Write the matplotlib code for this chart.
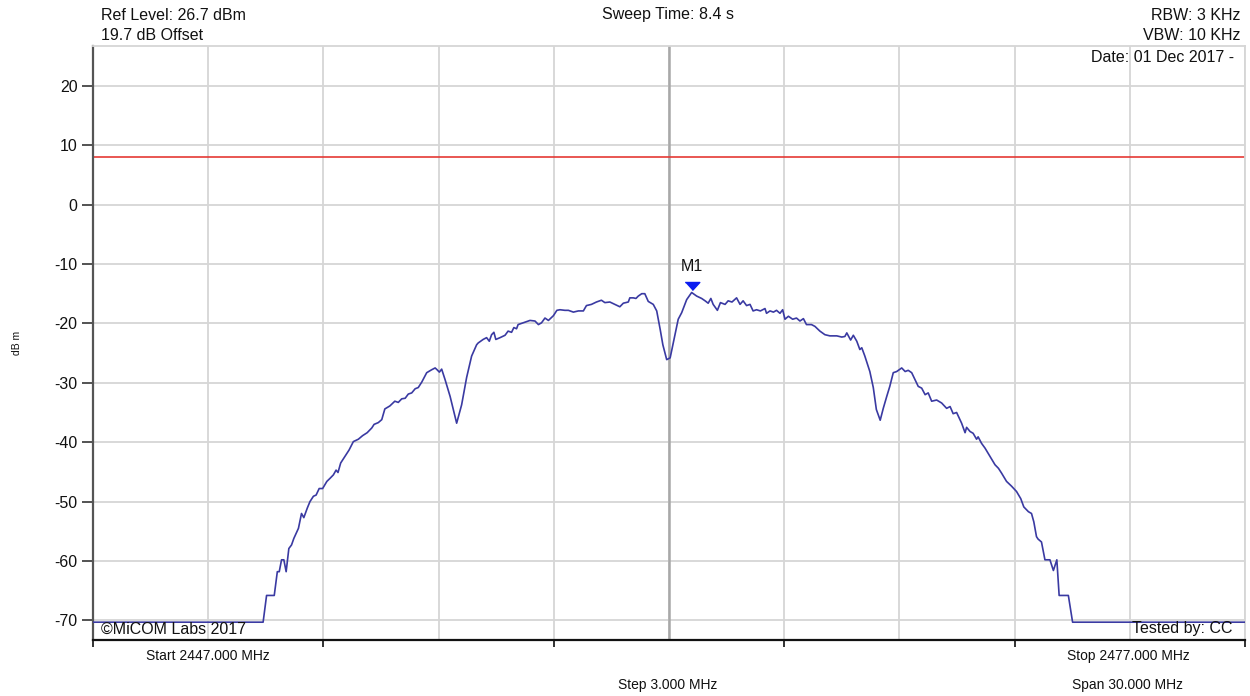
import matplotlib
matplotlib.use("Agg")
import matplotlib.pyplot as plt
from matplotlib.ticker import FixedLocator, NullFormatter
import numpy as np

plt.rcParams['font.family'] = ['Liberation Sans', 'DejaVu Sans']

# ---- data ----
freq_mhz = [
    2447.00, 2451.43, 2451.52, 2451.72, 2451.80, 2451.85, 2451.91, 2451.97, 2452.03, 2452.10,
    2452.17, 2452.23, 2452.35, 2452.43, 2452.49, 2452.58, 2452.65, 2452.74, 2452.81, 2452.89,
    2452.98, 2453.09, 2453.17, 2453.26, 2453.33, 2453.38, 2453.45, 2453.56, 2453.67, 2453.78,
    2453.91, 2454.02, 2454.14, 2454.26, 2454.32, 2454.43, 2454.52, 2454.60, 2454.73, 2454.86,
    2454.95, 2455.04, 2455.13, 2455.21, 2455.30, 2455.39, 2455.47, 2455.56, 2455.69, 2455.82,
    2455.91, 2455.96, 2456.02, 2456.08, 2456.17, 2456.30, 2456.47, 2456.60, 2456.73, 2456.86,
    2456.99, 2457.03, 2457.16, 2457.25, 2457.32, 2457.38, 2457.44, 2457.49, 2457.60, 2457.73,
    2457.81, 2457.90, 2457.96, 2458.03, 2458.07, 2458.20, 2458.38, 2458.51, 2458.60, 2458.68,
    2458.77, 2458.86, 2458.99, 2459.08, 2459.16, 2459.29, 2459.38, 2459.51, 2459.64, 2459.77,
    2459.85, 2459.98, 2460.11, 2460.24, 2460.33, 2460.46, 2460.59, 2460.72, 2460.81, 2460.94,
    2460.98, 2461.07, 2461.14, 2461.20, 2461.29, 2461.37, 2461.46, 2461.59, 2461.68, 2461.77,
    2461.84, 2461.94, 2462.03, 2462.11, 2462.24, 2462.33, 2462.46, 2462.59, 2462.72, 2462.85,
    2462.94, 2463.02, 2463.09, 2463.15, 2463.26, 2463.34, 2463.46, 2463.54, 2463.64, 2463.76,
    2463.85, 2463.93, 2464.02, 2464.11, 2464.19, 2464.28, 2464.38, 2464.50, 2464.54, 2464.63,
    2464.72, 2464.80, 2464.89, 2464.96, 2465.02, 2465.11, 2465.22, 2465.32, 2465.41, 2465.50,
    2465.58, 2465.71, 2465.80, 2465.93, 2466.06, 2466.19, 2466.37, 2466.50, 2466.58, 2466.63,
    2466.73, 2466.80, 2466.89, 2466.97, 2467.02, 2467.10, 2467.23, 2467.32, 2467.40, 2467.50,
    2467.58, 2467.67, 2467.75, 2467.84, 2467.93, 2468.06, 2468.15, 2468.23, 2468.32, 2468.41,
    2468.49, 2468.58, 2468.67, 2468.75, 2468.84, 2468.97, 2469.10, 2469.23, 2469.32, 2469.40,
    2469.49, 2469.62, 2469.71, 2469.75, 2469.84, 2469.92, 2470.01, 2470.05, 2470.14, 2470.23,
    2470.36, 2470.49, 2470.58, 2470.66, 2470.79, 2470.92, 2471.05, 2471.16, 2471.24, 2471.36,
    2471.44, 2471.50, 2471.57, 2471.61, 2471.70, 2471.79, 2471.92, 2472.01, 2472.10, 2472.16,
    2472.40, 2472.51, 2477.00,
]
level_dbm = [
    -70.3, -70.3, -65.8, -65.8, -61.8, -61.8, -59.8, -59.8, -61.8, -57.9,
    -57.3, -56.2, -54.5, -52.0, -52.7, -51.1, -50.0, -49.1, -48.9, -47.8,
    -47.8, -46.6, -46.1, -45.5, -44.7, -45.1, -43.5, -42.4, -41.3, -39.9,
    -39.5, -38.9, -38.4, -37.6, -37.0, -36.7, -36.2, -34.4, -33.9, -33.1,
    -33.3, -32.7, -32.6, -31.9, -31.7, -31.0, -30.8, -29.9, -28.3, -27.8,
    -27.5, -27.8, -28.2, -27.7, -29.5, -32.3, -36.8, -33.7, -29.1, -25.5,
    -23.6, -23.3, -22.7, -22.4, -23.0, -21.9, -21.5, -22.7, -22.4, -22.0,
    -21.3, -21.5, -20.7, -20.9, -20.2, -19.9, -19.5, -19.6, -20.2, -19.9,
    -19.1, -19.5, -18.7, -17.8, -17.7, -17.8, -17.8, -18.1, -17.9, -17.9,
    -17.0, -16.8, -16.4, -16.1, -16.5, -16.4, -16.8, -17.2, -16.6, -16.4,
    -15.7, -15.7, -15.8, -15.4, -15.0, -15.0, -16.3, -16.8, -17.9, -21.0,
    -23.6, -26.1, -25.8, -23.3, -19.3, -18.2, -16.0, -14.8, -15.4, -15.8,
    -16.2, -16.6, -15.8, -16.8, -17.8, -16.5, -16.8, -16.2, -16.4, -15.7,
    -16.8, -16.2, -17.0, -16.8, -17.9, -17.7, -17.9, -17.5, -18.3, -17.9,
    -18.1, -17.8, -18.3, -17.7, -19.3, -18.8, -19.3, -19.1, -19.6, -19.2,
    -20.2, -20.2, -20.5, -21.3, -21.9, -22.1, -22.1, -22.3, -22.2, -21.6,
    -22.8, -22.0, -23.0, -24.4, -24.1, -25.5, -28.1, -30.8, -34.5, -36.3,
    -34.3, -32.3, -30.6, -28.3, -28.1, -27.5, -28.1, -27.9, -28.3, -29.5,
    -30.6, -30.9, -32.0, -31.7, -33.1, -32.9, -33.4, -34.3, -34.0, -35.2,
    -35.0, -36.8, -38.4, -37.5, -38.2, -38.5, -39.5, -39.1, -40.2, -41.0,
    -42.4, -43.8, -44.4, -45.2, -46.6, -47.4, -48.3, -49.5, -50.9, -51.7,
    -52.0, -53.4, -55.9, -56.3, -56.8, -59.8, -59.8, -61.6, -59.8, -65.8,
    -65.8, -70.3, -70.3,
]
limit_dbm = 8.0
marker_label = "M1"
y_ticks = [-70, -60, -50, -40, -30, -20, -10, 0, 10, 20]
start_mhz, stop_mhz, step_mhz = 2447.0, 2477.0, 3.0
ref_level = 26.7

# ---- figure ----
fig = plt.figure(figsize=(12.5, 6.96), dpi=100)
ax = fig.add_axes([93/1250, 1 - 640/696, (1245 - 93)/1250, (640 - 46)/696])

ax.set_xlim(start_mhz, stop_mhz)
ax.set_ylim(ref_level - 100, ref_level)

grid_c = '#d6d6d6'
n_div = int(round((stop_mhz - start_mhz) / step_mhz))
all_x = [start_mhz + i * step_mhz for i in range(n_div + 1)]
ax.xaxis.set_major_locator(FixedLocator(all_x[::2]))
ax.xaxis.set_minor_locator(FixedLocator(all_x[1::2]))
ax.xaxis.set_major_formatter(NullFormatter())
ax.set_yticks(y_ticks)
ax.set_yticklabels([str(v) for v in y_ticks])
ax.grid(True, which='both', color=grid_c, lw=1.3, zorder=0)
ax.set_axisbelow(True)

ax.tick_params(axis='x', which='major', length=5, width=1.3, color='#222222', direction='out')
ax.tick_params(axis='x', which='minor', length=0)
ax.tick_params(axis='y', which='major', length=8, width=1.3, color='#444444', pad=3,
               labelsize=11.5, labelcolor='#111111')

# centre line
ax.axvline((start_mhz + stop_mhz) / 2, color='#a8a8a8', lw=1.8, zorder=1)

for s in ['top', 'right']:
    ax.spines[s].set_color(grid_c)
    ax.spines[s].set_linewidth(1.3)
ax.spines['left'].set_color('#555555')
ax.spines['left'].set_linewidth(1.6)
ax.spines['bottom'].set_color('#111111')
ax.spines['bottom'].set_linewidth(1.6)

# limit line
ax.axhline(limit_dbm, color='#e53935', lw=1.2, zorder=2)

# trace
ax.plot(freq_mhz, level_dbm, color='#3a3aa2', lw=1.2, zorder=3)

# marker M1 at the peak
i_pk = int(np.argmax(level_dbm))
fpk, vpk = freq_mhz[i_pk], level_dbm[i_pk]
tri = [(-1, 0.55), (1, 0.55), (0, -0.55)]
ax.plot([fpk], [vpk], marker=tri, markersize=10.5, color='#0a1cf0', lw=0,
        transform=ax.transData + matplotlib.transforms.ScaledTranslation(0, 6.5/100, fig.dpi_scale_trans),
        zorder=4)
ax.annotate(marker_label, xy=(fpk, vpk), xytext=(0, 19), textcoords='offset points',
            ha='center', va='center', fontsize=11.5, color='#111111')

ax.set_ylabel('dB m', fontsize=7.5, color='#111111')
ax.yaxis.set_label_coords(-(93 - 22) / 1152, (640 - 343) / 594)

# inside texts
ax.text(101/1250, 1 - 629/696, '©MiCOM Labs 2017', transform=fig.transFigure,
        ha='left', va='center', fontsize=11.5, color='#111111', zorder=5)
ax.text(1233/1250, 1 - 629/696, 'Tested by: CC', transform=fig.transFigure,
        ha='right', va='center', fontsize=11.5, color='#111111', zorder=5)

# header texts
tc = '#111111'
fig.text(101/1250, 1 - 15/696, 'Ref Level: 26.7 dBm', ha='left', va='center', fontsize=11.5, color=tc)
fig.text(101/1250, 1 - 35/696, '19.7 dB Offset', ha='left', va='center', fontsize=11.5, color=tc)
fig.text(668/1250, 1 - 15/696, 'Sweep Time: 8.4 s', ha='center', va='center', fontsize=11.5, color=tc)
fig.text(1240/1250, 1 - 15/696, 'RBW: 3 KHz', ha='right', va='center', fontsize=11.5, color=tc)
fig.text(1240/1250, 1 - 36/696, 'VBW: 10 KHz', ha='right', va='center', fontsize=11.5, color=tc)
fig.text(1234/1250, 1 - 57/696, 'Date: 01 Dec 2017 -', ha='right', va='center', fontsize=11.5, color=tc)

# footer texts
fig.text(208/1250, 1 - 656/696, 'Start 2447.000 MHz', ha='center', va='center', fontsize=10, color=tc)
fig.text(1128/1250, 1 - 656/696, 'Stop 2477.000 MHz', ha='center', va='center', fontsize=10, color=tc)
fig.text(668/1250, 1 - 685/696, 'Step 3.000 MHz', ha='center', va='center', fontsize=10, color=tc)
fig.text(1128/1250, 1 - 685/696, 'Span 30.000 MHz', ha='center', va='center', fontsize=10, color=tc)

fig.savefig('out.png', dpi=100, facecolor='white')
